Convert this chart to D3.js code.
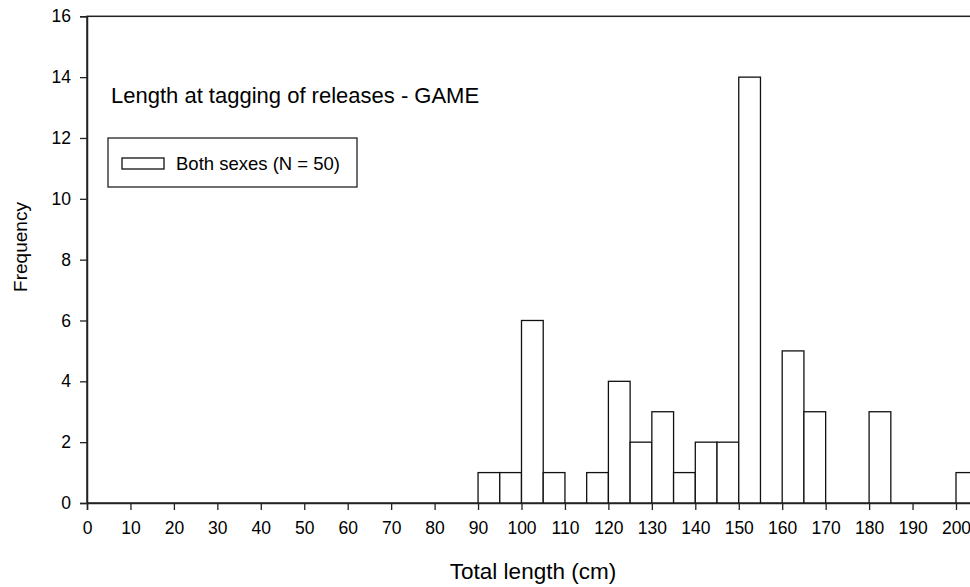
<!DOCTYPE html>
<html>
<head>
<meta charset="utf-8">
<script src="https://cdn.jsdelivr.net/npm/d3@7"></script>
<style>
  html, body { margin: 0; padding: 0; background: #fff; }
  svg { display: block; font-family: "Liberation Sans", Arial, sans-serif; }
</style>
</head>
<body>
<svg id="chart" width="970" height="587"></svg>
<script>
// Histogram of total length at tagging, 5 cm bins (bin start in cm)
const binStarts = [90, 95, 100, 105, 110, 115, 120, 125, 130, 135, 140, 145, 150, 155, 160, 165, 170, 175, 180, 185, 190, 195, 200];
const counts    = [ 1,  1,   6,   1,   0,   1,   4,   2,   3,   1,   2,   2,  14,   0,   5,   3,   0,   0,   3,   0,   0,   0,   1];
const binWidth = 5;
const xTicks = d3.range(0, 211, 10);
const yTicks = d3.range(0, 17, 2);
const titleText = "Length at tagging of releases - GAME";
const legendText = "Both sexes (N = 50)";
const xLabel = "Total length (cm)";
const yLabel = "Frequency";

const svg = d3.select("#chart");
const x = d3.scaleLinear().domain([0, 210]).range([87, 87 + 210 * 4.345]);
const y = d3.scaleLinear().domain([0, 16]).range([503, 16.3]);

// frame of the plot area
svg.append("rect")
  .attr("x", x(0)).attr("y", y(16))
  .attr("width", x(210) - x(0)).attr("height", y(0) - y(16))
  .attr("fill", "none").attr("stroke", "#222").attr("stroke-width", 1.5);

// bars
svg.append("g").selectAll("rect")
  .data(binStarts.map((b, i) => ({ b, c: counts[i] })).filter(d => d.c > 0))
  .join("rect")
  .attr("x", d => x(d.b))
  .attr("y", d => y(d.c))
  .attr("width", d => x(d.b + binWidth) - x(d.b))
  .attr("height", d => y(0) - y(d.c))
  .attr("fill", "#fff").attr("stroke", "#111").attr("stroke-width", 1.3);

// axes
const xAxis = svg.append("g").attr("transform", `translate(0,${y(0)})`)
  .call(d3.axisBottom(x).tickValues(xTicks).tickFormat(d3.format("d")).tickSize(7).tickPadding(12));
const yAxis = svg.append("g").attr("transform", `translate(${x(0)},0)`)
  .call(d3.axisLeft(y).tickValues(yTicks).tickFormat(d3.format("d")).tickSize(7).tickPadding(9));
[xAxis, yAxis].forEach(g => {
  g.select(".domain").attr("stroke", "#222").attr("stroke-width", 1.5);
  g.selectAll(".tick line").attr("stroke", "#222").attr("stroke-width", 1.3);
  g.selectAll(".tick text").attr("fill", "#000")
    .style("font-family", '"Liberation Sans", Arial, sans-serif').style("font-size", "17.5px");
});

// title
svg.append("text").attr("x", 111).attr("y", 103)
  .style("font-size", "22px").attr("fill", "#000").text(titleText);

// legend
svg.append("rect").attr("x", 108).attr("y", 138).attr("width", 249).attr("height", 49)
  .attr("fill", "#fff").attr("stroke", "#222").attr("stroke-width", 1.3);
svg.append("rect").attr("x", 122).attr("y", 158).attr("width", 42).attr("height", 11)
  .attr("fill", "#fff").attr("stroke", "#111").attr("stroke-width", 1.3);
svg.append("text").attr("x", 176).attr("y", 170)
  .style("font-size", "18.5px").attr("fill", "#000").text(legendText);

// axis titles
svg.append("text").attr("x", 533).attr("y", 579).attr("text-anchor", "middle")
  .style("font-size", "22.5px").attr("fill", "#000").text(xLabel);
svg.append("text").attr("transform", "translate(27,247) rotate(-90)").attr("text-anchor", "middle")
  .style("font-size", "19px").attr("fill", "#000").text(yLabel);
</script>
</body>
</html>
